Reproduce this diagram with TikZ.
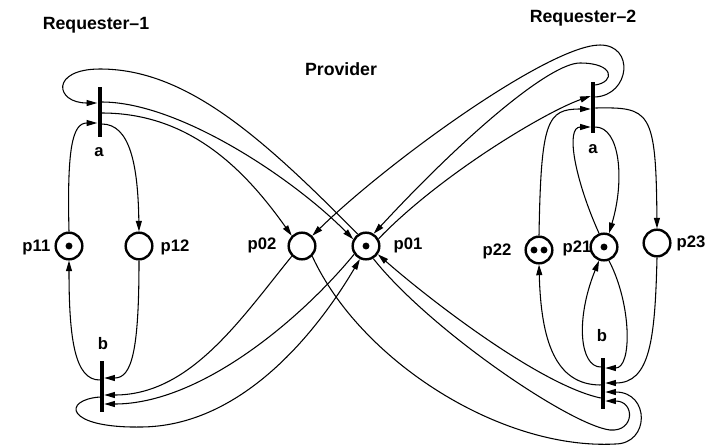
\documentclass[tikz,border=0pt]{standalone}
\usepackage{fontspec}
\setmainfont{Liberation Sans}
\usetikzlibrary{arrows.meta}

\begin{document}
\begin{tikzpicture}[x=0.75pt,y=-0.75pt,
        font=\fontsize{12.5}{14}\selectfont\bfseries,
        title/.style={anchor=base,font=\fontsize{13.3}{15}\selectfont\bfseries},
        place/.style={circle,draw,line width=1.8pt,minimum size=20pt,inner sep=0pt},
        trans/.style={fill=black,minimum width=3pt,minimum height=38pt,inner sep=0pt},
        arc/.style={line width=0.8pt,-{Triangle[length=8pt,width=4.5pt]}}]
    \useasboundingbox (0,0) rectangle (709,447);

    \node[title] (req1) at (96,29) {Requester–1};
    \node[title] (prov) at (341,75) {Provider};
    \node[title] (req2) at (583,22) {Requester–2};

    \foreach \n/\x/\y in {p11/69/246,p12/139/246,p02/302/246,p01/366/246,p22/539/250,p21/604/247,p23/657/243} {
            \node[place] (\n) at (\x,\y) {};
        }
    \foreach \x/\y in {69/246,366/246,604/247,534/250,544/250} {
            \fill (\x,\y) circle (2.6pt);
        }
    \foreach \n/\x/\y/\a in {p11/55/251/base east,p12/156/251/base west,p02/281/249/base east,p01/389/249/base west,
            p22/516/255/base east,p21/558/252/base west,p23/672/247/base west} {
            \node[anchor=\a] (l\n) at (\x,\y) {\n};
        }

    \node[trans] (a1) at (99.5,112) {};
    \node[trans] (b1) at (102,386.5) {};
    \node[trans] (a2) at (593,107.5) {};
    \node[trans] (b2) at (603,383.5) {};
    \node[anchor=base] (la1) at (99,156) {a};
    \node[anchor=base] (lb1) at (103,349) {b};
    \node[anchor=base] (la2) at (593,153) {a};
    \node[anchor=base] (lb2) at (602,341) {b};

    % Requester-1
    \draw[arc] (p11.north) .. controls (67,150) and (72,123) .. ([shift={(0,11)}]a1.west);
    \draw[arc] ([shift={(0,12)}]a1.east) .. controls (130,124) and (138,165) .. (p12.north);
    \draw[arc] (p12.south) .. controls (139,350) and (132,378) .. ([shift={(0,-8.5)}]b1.east);
    \draw[arc] ([shift={(0,-6.5)}]b1.west) .. controls (75,380) and (69,340) .. (p11.south);
    \draw[arc] ([shift={(0,-10)}]a1.east) .. controls (180,102) and (295,180) .. (p01.152);
    \draw[arc] ([shift={(0,1)}]a1.east) .. controls (190,113) and (245,170) .. (p02.135);
    \draw[arc] (p01.125) .. controls (260,135) and (185,69) .. (100,69)
        .. controls (50,69) and (55,103) .. ([shift={(0,-9)}]a1.west);
    \draw[arc] (p02.225) .. controls (240,320) and (190,395) .. ([shift={(0,8.5)}]b1.east);
    \draw[arc] (p01.215) .. controls (300,320) and (200,404) .. ([shift={(0,17.5)}]b1.east);
    \draw[arc] ([shift={(0,10.5)}]b1.west) .. controls (62,400) and (65,428) .. (140,427)
        .. controls (240,427) and (315,335) .. (p01.245);

    % Requester-2
    \draw[arc] (p22.north) .. controls (541,120) and (547,109) .. ([shift={(0,1.5)}]a2.west);
    \draw[arc] (p21.110) .. controls (575,180) and (565,127) .. ([shift={(0,19.5)}]a2.west);
    \draw[arc] ([shift={(0,19.5)}]a2.east) .. controls (620,127) and (625,180) .. (p21.70);
    \draw[arc] ([shift={(0,0.5)}]a2.east) .. controls (650,107) and (656,110) .. (p23.north);
    \draw[arc] ([shift={(0,-16.5)}]b2.west) .. controls (580,367) and (575,320) .. (p21.250);
    \draw[arc] (p21.290) .. controls (632,305) and (632,368) .. ([shift={(0,-15.5)}]b2.east);
    \draw[arc] ([shift={(0,1.5)}]b2.west) .. controls (555,385) and (541,340) .. (p22.south);
    \draw[arc] (p23.south) .. controls (655,340) and (650,383) .. ([shift={(0,-0.5)}]b2.east);
    \draw[arc] (p01.30) .. controls (440,175) and (545,112) .. ([shift={(0,-11.5)}]a2.west);
    \draw[arc] ([shift={(0,-22.5)}]a2.east) .. controls (615,82) and (615,63) .. (580,63)
        .. controls (550,63) and (465,135) .. (p01.58);
    \draw[arc] ([shift={(0,-10.5)}]a2.east) .. controls (630,95) and (635,45) .. (600,45)
        .. controls (550,45) and (390,160) .. (p02.45);
    \draw[arc] ([shift={(0,14.5)}]b2.west) .. controls (540,385) and (430,300) .. (p01.325);
    \draw[arc] (p01.300) .. controls (430,330) and (570,425) .. (610,430)
        .. controls (635,432) and (635,401) .. ([shift={(0,17.5)}]b2.east);
    \draw[arc] (p02.315) .. controls (360,360) and (500,450) .. (615,444)
        .. controls (650,444) and (650,392) .. ([shift={(0,8.5)}]b2.east);
\end{tikzpicture}
\end{document}
